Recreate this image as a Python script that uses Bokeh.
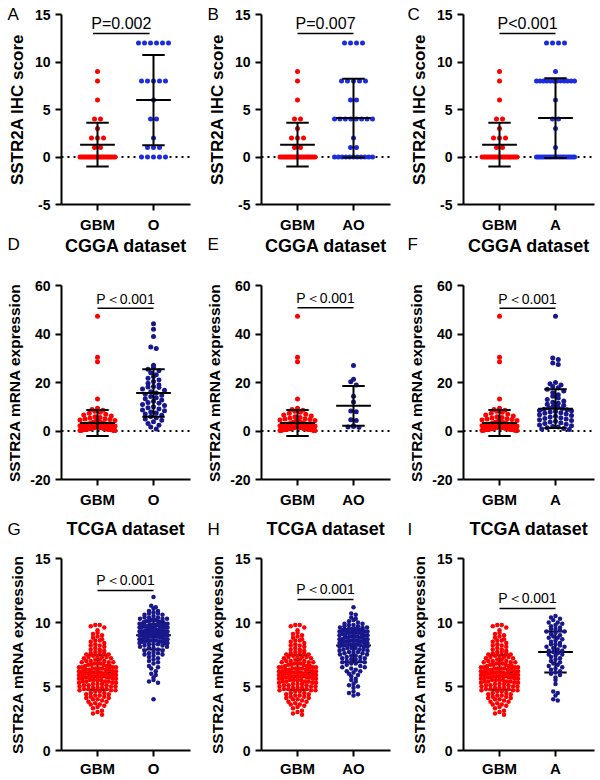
import numpy as np
from bokeh.plotting import figure
from bokeh.models import Range1d, FixedTicker, Span, Label
from bokeh.layouts import column, row
from bokeh.embed import file_html
from bokeh.resources import INLINE
from bokeh.core.properties import value

FONT = "Liberation Sans"
RED = "#ff0000"
BLUE = "#1c2ce0"
NAVY = "#18188c"

# ---------------- data ----------------
letters = ["A", "B", "C", "D", "E", "F", "G", "H", "I"]
group_labels = ["O", "AO", "A"]
row_titles = [None, "CGGA dataset", "TCGA dataset"]

# IHC score (row 1)
ihc_gbm = [9, 8, 6, 4, 4, 3, 2, 2, 2, 1, 1,
           0, 0, 0, 0, 0, 0, 0, 0, 0, 0, 0, 0, 0, 0, 0, 0, 0, 0, 0, 0, 0]
ihc_o = [12, 12, 12, 12, 12, 12, 8, 8, 8, 8, 8, 6, 4, 4, 2, 1, 1, 1, 0, 0, 0, 0, 0]
ihc_ao = [12, 12, 12, 12, 8, 8, 8, 8, 8, 6, 6, 4, 4, 4, 4, 4, 4, 4, 4, 2, 1, 1,
          0, 0, 0, 0, 0, 0, 0, 0, 0, 0, 0]
ihc_a = [12, 12, 12, 12, 9, 8, 8, 8, 8, 8, 8, 8, 8, 8, 8, 8, 8, 6, 4, 4, 3, 1,
         0, 0, 0, 0, 0, 0, 0, 0, 0, 0, 0, 0, 0, 0, 0, 0, 0, 0, 0, 0]
ihc_mean_gbm, ihc_sd_gbm = 1.3, 2.3
ihc_mean = [6.0, 4.1, 4.1]
ihc_sd = [4.75, 4.15, 4.2]
ihc_p = ["P=0.002", "P=0.007", "P<0.001"]

# CGGA dataset (row 2)
cgga_gbm = [47.3, 30.4, 28.6, 13.2, 9.4, 8.9, 8.6, 8.1, 7.7, 7.3, 6.9, 6.6, 6.2, 5.9, 5.6,
            5.4, 5.1, 4.9, 4.7, 4.5, 4.3, 4.1, 3.9, 3.8, 3.6, 3.5, 3.3, 3.2, 3.1, 3.0,
            2.9, 2.8, 2.7, 2.6, 2.5, 2.4, 2.4, 2.3, 2.2, 2.2, 2.1, 2.0, 2.0, 1.9, 1.9,
            1.8, 1.8, 1.7, 1.7, 1.6, 1.6, 1.5, 1.5, 1.5, 1.4, 1.4, 1.4, 1.3, 1.3, 1.3,
            1.2, 1.2, 1.2, 1.2, 1.1, 1.1, 1.1, 1.1, 1.0, 1.0, 1.0, 1.0, 0.9, 0.9, 0.9,
            0.9, 0.9, 0.8, 0.8, 0.8, 0.8, 0.8, 0.7, 0.7, 0.7, 0.7, 0.7, 0.6, 0.6, 0.6,
            0.6, 0.6, 0.5, 0.5, 0.5, 0.5, 0.5, 0.4, 0.4, 0.4, 0.4, 0.3, 0.3, 0.3, 0.2, 0.2]
cgga_o = [44.2, 42.0, 39.0, 34.6, 34.0, 27.1, 26.3, 25.5, 24.8, 24.0, 23.2, 22.5, 21.8,
          21.0, 20.4, 19.7, 19.0, 18.4, 18.1, 17.9, 17.3, 16.8, 16.2, 15.7, 15.2, 14.7,
          14.2, 13.7, 13.3, 12.8, 12.3, 11.8, 11.4, 10.9, 10.5, 10.0, 9.6, 9.1, 8.7,
          8.3, 7.8, 7.4, 7.0, 6.5, 6.0, 5.5, 5.0, 4.4, 3.8, 3.1, 2.4, 1.6, 0.8]
cgga_ao = [27.0, 21.3, 20.3, 19.0, 14.3, 12.0, 8.2, 7.9, 4.6, 4.3, 2.2, 1.9, 1.6, 1.4]
cgga_a = [47.3, 30.1, 29.5, 28.0, 27.4, 20.0, 19.5, 19.0, 18.4, 17.8, 17.2, 16.5, 15.8,
          15.0, 14.3, 13.6, 13.0, 12.4, 11.9, 11.4, 11.0, 10.6, 10.2, 9.9, 9.6, 9.3,
          9.0, 8.8, 8.5, 8.3, 8.0, 7.8, 7.5, 7.3, 7.0, 6.7, 6.4, 6.1, 5.8, 5.5, 5.2,
          4.9, 4.6, 4.3, 4.0, 3.7, 3.4, 3.1, 2.8, 2.5, 2.2, 1.9, 1.6, 1.3, 1.0, 0.8, 0.6]
cgga_mean_gbm, cgga_sd_gbm = 3.3, 5.4
cgga_mean = [15.7, 10.4, 9.2]
cgga_sd = [9.8, 8.2, 8.0]

# TCGA dataset (row 3)
tcga_gbm = [9.8, 9.8, 9.7, 9.6, 9.4, 9.2, 9.1, 9.0, 8.9, 8.8, 8.7, 8.6, 8.6, 8.5,
            8.4, 8.3, 8.2, 8.2, 8.1, 8.0, 7.9, 7.9, 7.8, 7.7, 7.7, 7.6, 7.6, 7.5, 7.5,
            7.4, 7.4, 7.3, 7.3, 7.3, 7.2, 7.2, 7.1, 7.1, 7.0, 7.0, 7.0,
            6.9, 6.9, 6.9, 6.8, 6.8, 6.8, 6.7, 6.7, 6.7, 6.6, 6.6, 6.6, 6.5, 6.5, 6.5, 6.5,
            6.4, 6.4, 6.4, 6.4, 6.3, 6.3, 6.3, 6.3, 6.2, 6.2, 6.2, 6.2, 6.1, 6.1, 6.1, 6.1,
            6.0, 6.0, 6.0, 6.0, 5.9, 5.9, 5.9, 5.9, 5.9, 5.8, 5.8, 5.8, 5.8, 5.8,
            5.7, 5.7, 5.7, 5.7, 5.6, 5.6, 5.6, 5.6, 5.5, 5.5, 5.5, 5.5,
            5.4, 5.4, 5.4, 5.4, 5.3, 5.3, 5.3, 5.2, 5.2, 5.2, 5.1, 5.1, 5.1, 5.0, 5.0, 5.0,
            4.9, 4.9, 4.9, 4.8, 4.8, 4.8, 4.7, 4.7, 4.7, 4.6, 4.6, 4.5, 4.5,
            4.4, 4.4, 4.3, 4.3, 4.2, 4.2, 4.1, 4.1, 4.0, 4.0,
            3.9, 3.8, 3.8, 3.7, 3.6, 3.6, 3.5, 3.4, 3.3, 3.1, 3.0, 2.9, 2.8]
tcga_o = [12.0, 11.3, 11.2, 11.1, 10.9, 10.9, 10.8, 10.7, 10.7, 10.6, 10.6, 10.5,
          10.4, 10.4, 10.4, 10.3, 10.3, 10.3, 10.2, 10.2, 10.2, 10.1, 10.1, 10.1, 10.0, 10.0,
          9.9, 9.9, 9.9, 9.9, 9.9, 9.8, 9.8, 9.8, 9.8, 9.8, 9.7, 9.7, 9.7, 9.7, 9.7,
          9.6, 9.6, 9.6, 9.6, 9.6, 9.5, 9.5, 9.5, 9.5,
          9.4, 9.4, 9.4, 9.4, 9.4, 9.3, 9.3, 9.3, 9.3, 9.3, 9.3, 9.2, 9.2, 9.2, 9.2, 9.2,
          9.1, 9.1, 9.1, 9.1, 9.1, 9.0, 9.0, 9.0, 9.0, 9.0,
          8.9, 8.9, 8.9, 8.9, 8.8, 8.8, 8.8, 8.8, 8.7, 8.7, 8.7, 8.7, 8.6, 8.6, 8.6, 8.6,
          8.5, 8.5, 8.5, 8.5, 8.4, 8.4, 8.4, 8.3, 8.3, 8.3, 8.2, 8.2, 8.1, 8.1, 8.0, 8.0,
          7.9, 7.8, 7.8, 7.7, 7.6, 7.6, 7.5, 7.5, 7.4, 7.3, 7.2, 7.1, 7.0,
          6.9, 6.8, 6.6, 6.5, 6.4, 6.2, 6.0, 5.9, 5.7, 5.5, 5.4, 5.3, 4.0]
tcga_ao = [11.2, 10.7, 10.6, 10.4, 10.3, 10.2, 10.1, 10.0,
           9.9, 9.9, 9.8, 9.8, 9.7, 9.7, 9.6, 9.6, 9.6, 9.5, 9.5, 9.5,
           9.4, 9.4, 9.4, 9.4, 9.3, 9.3, 9.3, 9.2, 9.2, 9.2, 9.2, 9.1, 9.1, 9.1, 9.0, 9.0, 9.0,
           8.9, 8.9, 8.9, 8.9, 8.8, 8.8, 8.8, 8.8, 8.7, 8.7, 8.7, 8.7, 8.6, 8.6, 8.6, 8.6,
           8.5, 8.5, 8.5, 8.5, 8.4, 8.4, 8.4, 8.4, 8.3, 8.3, 8.3, 8.2, 8.2, 8.2,
           8.1, 8.1, 8.1, 8.0, 8.0, 8.0, 7.9, 7.9, 7.9, 7.8, 7.8, 7.7, 7.7, 7.7, 7.6, 7.6,
           7.5, 7.5, 7.4, 7.4, 7.3, 7.3, 7.2, 7.2, 7.1, 7.1, 7.0, 7.0,
           6.9, 6.9, 6.8, 6.8, 6.7, 6.6, 6.5, 6.5, 6.4, 6.3, 6.2, 6.2, 6.1, 6.0,
           5.9, 5.8, 5.6, 5.5, 5.4, 5.2, 5.1, 5.0, 4.9, 4.6, 4.5, 4.4, 4.3]
tcga_a = [10.5, 10.4, 10.3, 10.2, 10.0, 10.0, 9.9, 9.8, 9.7, 9.6, 9.5, 9.5, 9.4, 9.3, 9.3,
          9.2, 9.1, 9.0, 8.9, 8.8, 8.8, 8.7, 8.6, 8.5, 8.4, 8.3, 8.3, 8.2, 8.1, 8.1, 8.0,
          7.9, 7.8, 7.8, 7.7, 7.6, 7.5, 7.5, 7.4, 7.3, 7.2, 7.1, 7.0, 6.9, 6.8, 6.7, 6.6,
          6.5, 6.4, 6.3, 6.2, 6.1, 6.0, 5.9, 5.7, 5.5, 5.2, 4.6, 4.5, 4.3, 4.0, 3.9]
tcga_mean_gbm, tcga_sd_gbm = 6.1, 1.35
tcga_mean = [9.0, 8.2, 7.7]
tcga_sd = [1.1, 1.3, 1.6]

p_line_y = [[13.0, 13.0, 13.0], [50.6, 50.8, 50.6], [12.5, 11.8, 11.1]]
p_text_y = [[14.1, 14.1, 14.1], [54.6, 54.8, 54.6], [13.3, 12.6, 11.9]]
cgga_p = ["P\uff1c0.001", "P\uff1c0.001", "P\uff1c0.001"]
tcga_p = ["P\uff1c0.001", "P\uff1c0.001", "P\uff1c0.001"]

rows_data = [
    dict(gbm=ihc_gbm, other=[ihc_o, ihc_ao, ihc_a], mgbm=ihc_mean_gbm, sgbm=ihc_sd_gbm,
         m=ihc_mean, s=ihc_sd, p=ihc_p),
    dict(gbm=cgga_gbm, other=[cgga_o, cgga_ao, cgga_a], mgbm=cgga_mean_gbm, sgbm=cgga_sd_gbm,
         m=cgga_mean, s=cgga_sd, p=cgga_p),
    dict(gbm=tcga_gbm, other=[tcga_o, tcga_ao, tcga_a], mgbm=tcga_mean_gbm, sgbm=tcga_sd_gbm,
         m=tcga_mean, s=tcga_sd, p=tcga_p),
]

# ---------------- layout / style ----------------
COLS = [dict(W=200, left=61, right=10, letter_dx=-54),
        dict(W=200, left=61, right=10, letter_dx=-54),
        dict(W=200, left=63, right=6, letter_dx=-56)]
ROWS = [dict(H=235, top=14, bottom=28, y0=-5, y1=15, yticks=[-5, 0, 5, 10, 15],
             ylabel="SSTR2A IHC score", ylab_size="17px", dot=5, step=6, half=17.5, ohalf=19, bin=5,
             zero=True, bars_top=True, p_size="16px", title_dy=0, letter_dy=0,
             other_color=BLUE, ylab_standoff=5),
        dict(H=275, top=50, bottom=30, y0=-20, y1=60, yticks=[-20, 0, 20, 40, 60],
             ylabel="SSTR2A mRNA expression", ylab_size="15.5px", dot=5, step=5.5, half=17.5, ohalf=16, bin=5,
             zero=True, bars_top=True, p_size="14px", title_dy=40, letter_dy=41,
             other_color=NAVY, ylab_standoff=4),
        dict(H=269, top=48, bottom=27, y0=0, y1=15, yticks=[0, 5, 10, 15],
             ylabel="SSTR2A mRNA expression", ylab_size="15.5px", dot=4.5, step=4.5, half=18.5, ohalf=14, bin=4,
             zero=False, bars_top=False, p_size="14px", title_dy=30, letter_dy=29,
             other_color=NAVY, ylab_standoff=6)]
PX_PER_X = 56.0
GBM_FROM_LEFT = 36.0
p_line_x = [[0.92, 1.93], [1.0, 2.0], [1.0, 2.0]]


def swarm(vals, py, bin_px, step, half):
    v = np.asarray(vals, dtype=float)
    bins = np.floor(v * py / bin_px + 1e-9).astype(int)
    off = np.zeros(len(v))
    for b in np.unique(bins):
        idx = np.where(bins == b)[0]
        idx = idx[np.argsort(-v[idx], kind="stable")]
        k = len(idx)
        if k == 1:
            continue
        s = min(step, 2.0 * half / (k - 1))
        slots = (np.arange(k) - (k - 1) / 2.0) * s
        order = np.argsort(np.abs(slots), kind="stable")
        off[idx] = slots[order]
    return off


def bars(p, xc, mean, sd):
    mh, ch = 0.31, 0.2
    p.segment(x0=[xc - mh], y0=[mean], x1=[xc + mh], y1=[mean], line_color="black", line_width=2)
    p.segment(x0=[xc], y0=[mean - sd], x1=[xc], y1=[mean + sd], line_color="black", line_width=2)
    p.segment(x0=[xc - ch, xc - ch], y0=[mean - sd, mean + sd], x1=[xc + ch, xc + ch],
              y1=[mean - sd, mean + sd], line_color="black", line_width=2)


figs = []
for r, rc in enumerate(ROWS):
    d = rows_data[r]
    row_figs = []
    for c, cc in enumerate(COLS):
        fw = cc["W"] - cc["left"] - cc["right"]
        fh = rc["H"] - rc["top"] - rc["bottom"]
        x0 = 1 - GBM_FROM_LEFT / PX_PER_X
        x1 = x0 + fw / PX_PER_X
        py = fh / (rc["y1"] - rc["y0"])
        p = figure(width=cc["W"], height=rc["H"], x_range=Range1d(x0, x1),
                   y_range=Range1d(rc["y0"], rc["y1"]), output_backend="svg",
                   toolbar_location=None, min_border_left=cc["left"], min_border_right=cc["right"],
                   min_border_top=rc["top"], min_border_bottom=rc["bottom"])
        p.outline_line_color = None
        p.grid.visible = False
        p.background_fill_color = "white"
        p.border_fill_color = "white"

        p.xaxis.ticker = FixedTicker(ticks=[1, 2])
        p.xaxis.major_label_overrides = {1: "GBM", 2: group_labels[c]}
        p.yaxis.ticker = FixedTicker(ticks=rc["yticks"])
        p.yaxis.major_label_overrides = {t: str(t) for t in rc["yticks"]}
        for ax in (p.xaxis[0], p.yaxis[0]):
            ax.axis_line_width = 2
            ax.axis_line_color = "black"
            ax.major_tick_line_width = 2
            ax.major_tick_line_color = "black"
            ax.major_tick_out = 6
            ax.major_tick_in = 0
            ax.minor_tick_line_color = None
            ax.major_label_text_font = FONT
            ax.major_label_text_font_style = "bold"
            ax.major_label_text_color = "black"
        p.xaxis.major_label_text_font_size = "15px"
        p.yaxis.major_label_text_font_size = "14px"
        p.xaxis.major_label_standoff = 5 if r < 2 else 3
        p.yaxis.major_label_standoff = 5
        p.yaxis.axis_label = rc["ylabel"]
        p.yaxis.axis_label_text_font = FONT
        p.yaxis.axis_label_text_font_style = "bold"
        p.yaxis.axis_label_text_font_size = rc["ylab_size"]
        p.yaxis.axis_label_text_color = "black"
        p.yaxis.axis_label_standoff = rc["ylab_standoff"]

        if rc["zero"]:
            p.add_layout(Span(location=0, dimension="width", line_color="black",
                              line_width=2, line_dash="2 4", level="underlay"))

        gv = d["gbm"]
        ov = d["other"][c]
        gx = 1 + swarm(gv, py, rc["bin"], rc["step"], rc["half"]) / PX_PER_X
        ox = 2 + swarm(ov, py, rc["bin"], rc["step"], rc["ohalf"]) / PX_PER_X

        if not rc["bars_top"]:
            bars(p, 1, d["mgbm"], d["sgbm"])
            bars(p, 2, d["m"][c], d["s"][c])
        p.scatter(gx, gv, size=rc["dot"], fill_color=RED, line_color=None)
        p.scatter(ox, ov, size=rc["dot"], fill_color=rc["other_color"], line_color=None)
        if rc["bars_top"]:
            bars(p, 1, d["mgbm"], d["sgbm"])
            bars(p, 2, d["m"][c], d["s"][c])

        lx = p_line_x[r] if c == 0 else [1.0, 2.0]
        p.line(lx, [p_line_y[r][c]] * 2, line_color="black", line_width=1.5)
        p.add_layout(Label(x=(lx[0] + lx[1]) / 2, y=p_text_y[r][c], text=d["p"][c],
                           text_align="center", text_baseline="middle",
                           text_font=FONT, text_font_size=rc["p_size"], text_color="black"))

        # panel letter and dataset title (text glyphs at overlay level, outside the frame)
        p.text(x=[x0 + cc["letter_dx"] / PX_PER_X], y=[rc["y1"] + rc["letter_dy"] / py],
               text=[letters[r * 3 + c]], text_align="left", text_baseline="middle",
               text_font=value(FONT), text_font_size=value("17px"), text_color="black",
               level="overlay")
        if row_titles[r]:
            p.text(x=[x0 + fw / 2 / PX_PER_X], y=[rc["y1"] + rc["title_dy"] / py],
                   text=[row_titles[r]], text_align="center", text_baseline="middle",
                   text_font=value(FONT), text_font_style="bold", text_font_size=value("18px"),
                   text_color="black", level="overlay")
        row_figs.append(p)
    figs.append(row(*row_figs, spacing=0))

layout = column(*figs, spacing=0)
open("out.html", "w").write(file_html(layout, INLINE))
